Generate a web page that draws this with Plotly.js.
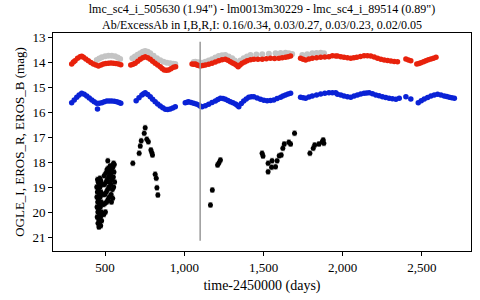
<!DOCTYPE html>
<html><head><meta charset="utf-8">
<script src="https://cdn.plot.ly/plotly-3.0.1.min.js"></script>
<style>html,body{margin:0;padding:0;background:#fff}#plot{width:480px;height:300px}</style>
</head><body><div id="plot"></div>
<script>
// EROS_R light curve (days, mag)
const redT = [289,300,310,326,342,352,363,378,394,410,426,442,458,474,489,505,521,537,553,568,584,599,
662,676,690,706,722,738,753,769,785,800,816,832,848,860,873,887,901,916,932,945,
1049,1060,1070,1080,1090,1101,1117,1133,1154,1175,1196,1217,1238,1259,1275,1291,1305,1318,1330,1340,1352,1365,1381,1397,1418,1439,1465,1492,1518,1544,1570,1597,1618,1639,1655,1671,
1734,1750,1766,1787,1808,1835,1861,1887,1913,1935,1956,1967,1988,2008,2030,2051,2070,
2089,2112,2135,2156,2177,2199,2220,2241,2262,2283,2304,2325,2346,
2399,2415,2430,
2468,2481,2494,2510,2525,2541,2557,2573,2589];
const redMag = [14.08,14.0,13.95,13.85,13.79,13.77,13.81,13.88,13.95,14.02,14.08,14.12,14.16,14.12,14.08,14.06,14.05,14.04,14.05,14.06,14.08,14.11,
14.12,14.09,14.05,13.97,13.89,13.83,13.79,13.83,13.89,13.97,14.05,14.12,14.19,14.26,14.32,14.33,14.32,14.27,14.21,14.19,
14.08,14.09,14.08,14.12,14.14,14.16,14.14,14.12,14.09,14.05,14.0,13.95,13.91,13.89,13.93,13.99,14.04,14.08,14.13,14.19,14.12,14.05,14.0,13.95,13.91,13.89,13.89,13.89,13.87,13.85,13.86,13.85,13.83,13.81,13.79,13.76,
13.85,13.89,13.92,13.88,13.85,13.83,13.81,13.8,13.79,13.75,13.76,13.76,13.79,13.81,13.83,13.85,13.83,
13.81,13.78,13.75,13.75,13.76,13.8,13.85,13.89,13.92,13.94,13.96,13.98,13.99,
13.88,13.92,13.95,
14.08,14.06,14.03,13.99,13.95,13.91,13.88,13.85,13.81];

// Grey I-band light curve
const greyT = [447,463,479,500,521,542,563,580,595,
672,688,705,722,738,753,769,785,806,827,848,869,890,911,930,943,
1060,1070,1090,1112,1133,1154,1175,1196,1217,1238,1259,1280,1302,1318,1333,1354,1375,1396,1418,1455,1492,1534,1576,1608,1639,1660,1681,
1745,1776,1808,1835,1861,1882];
const greyMag = [13.92,13.86,13.81,13.77,13.75,13.75,13.77,13.82,13.88,
13.85,13.78,13.71,13.65,13.59,13.56,13.59,13.65,13.75,13.85,13.93,13.99,14.03,14.05,14.07,14.08,
14.0,13.99,14.01,14.03,13.99,13.94,13.89,13.82,13.76,13.73,13.72,13.78,13.85,13.94,14.03,13.94,13.85,13.78,13.72,13.7,13.69,13.67,13.65,13.64,13.63,13.65,13.68,
13.72,13.69,13.65,13.64,13.63,13.65];

// EROS_B light curve
const blueT = [289,305,321,336,352,368,384,400,416,431,447,452,463,479,495,511,526,542,558,574,588,599,
696,714,732,743,753,769,785,800,816,832,848,864,880,895,911,927,943,
1006,1017,1027,1043,1059,1075,1091,1102,1112,1133,1154,1175,1196,1212,1228,1244,1259,1275,1291,1307,1323,1334,1344,1360,1375,1391,1407,1423,1439,1460,1481,1502,1523,1544,1565,1586,1608,1623,1639,1655,1671,
1734,1750,1766,1787,1808,1835,1861,1887,1913,1935,1956,1967,1988,2008,2030,2051,2072,2093,2114,2135,2151,2167,2188,2209,2230,2251,2272,2293,2314,2336,2357,
2399,2430,
2477,2496,2515,2536,2557,2578,2599,2620,2641,2657,2673,2689,2705];
const blueMag = [15.63,15.52,15.41,15.32,15.25,15.29,15.36,15.44,15.52,15.59,15.65,15.88,15.65,15.63,15.59,15.56,15.56,15.56,15.57,15.59,15.62,15.65,
15.55,15.43,15.32,15.27,15.23,15.3,15.39,15.49,15.59,15.68,15.76,15.83,15.89,15.9,15.88,15.84,15.79,
15.63,15.61,15.59,15.62,15.65,15.68,15.72,15.77,15.79,15.75,15.69,15.62,15.56,15.5,15.45,15.46,15.49,15.54,15.59,15.63,15.68,15.73,15.79,15.66,15.56,15.48,15.41,15.39,15.39,15.44,15.49,15.53,15.55,15.54,15.52,15.46,15.41,15.36,15.32,15.28,15.25,
15.41,15.43,15.45,15.4,15.36,15.32,15.28,15.25,15.23,15.23,15.23,15.29,15.32,15.36,15.39,15.41,15.36,15.32,15.28,15.25,15.24,15.23,15.27,15.32,15.35,15.39,15.42,15.45,15.47,15.49,15.45,
15.39,15.48,
15.63,15.55,15.48,15.42,15.36,15.32,15.29,15.32,15.36,15.38,15.41,15.43,15.45];

// OGLE_I light curve
const ogleT = [447,448,449,450,451,452,453,454,455,456,457,458,459,460,461,462,463,464,465,466,467,468,469,470,471,472,473,474,475,476,478,
486,488,490,492,494,496,498,500,502,504,506,508,510,512,514,516,518,520,522,524,526,528,530,
532,534,536,538,540,542,544,546,548,550,552,554,556,558,560,517,553,
675,715,722,728,747,753,763,773,789,795,799,816,823,827,833,
1165,1177,1210,1219,1228,
1491,1497,1529,1529,1551,1554,1576,1586,1599,1612,1622,1631,1660,1671,1696,
1793,1814,1823,1850,1871,1877,1881];
const ogleMag = [19.0,19.4,19.8,20.2,19.2,18.7,19.6,20.0,20.45,18.8,19.1,19.5,19.9,20.3,20.6,18.9,19.3,19.7,20.1,20.5,18.65,19.0,19.4,19.8,20.2,20.55,18.75,19.2,19.6,20.0,20.35,
18.9,19.3,19.7,20.1,18.55,18.9,19.3,19.65,20.0,18.45,18.8,19.2,19.6,18.3,18.7,19.1,19.5,18.25,18.6,19.0,19.4,18.4,18.8,
18.15,18.5,18.9,19.3,19.6,18.3,18.7,19.1,19.45,18.2,18.6,19.0,18.4,18.1,18.8,17.95,18.05,
18.05,17.65,17.36,17.15,16.85,16.63,17.09,17.19,17.52,17.63,17.72,18.49,18.65,19.03,19.32,
19.72,19.12,18.12,18.03,17.92,
17.65,17.76,18.39,18.05,18.21,17.95,18.19,17.95,17.75,17.72,17.45,17.28,17.21,17.28,16.85,
17.65,17.45,17.32,17.28,17.19,17.12,17.25];

const seasonBoundary = 1100;
const lineTop = 13.19, lineBottom = 21.15;

const titleLines = ['lmc_sc4_i_505630 (1.94") - lm0013m30229 - lmc_sc4_i_89514 (0.89")',
  'Ab/ExcessAb in I,B,R,I: 0.16/0.34, 0.03/0.27, 0.03/0.23, 0.02/0.05'];
const xTickVals = [500,1000,1500,2000,2500];
const yTickVals = [13,14,15,16,17,18,19,20,21];

const serif = 'Liberation Serif, Times New Roman, serif';
const traces = [
  {x: greyT, y: greyMag, mode:'markers', type:'scatter', marker:{color:'#c4c4c4', size:6}},
  {x: redT, y: redMag, mode:'markers', type:'scatter', marker:{color:'#e8220c', size:5.5}},
  {x: blueT, y: blueMag, mode:'markers', type:'scatter', marker:{color:'#0a22d6', size:5.5}},
  {x: ogleT, y: ogleMag, mode:'markers', type:'scatter', marker:{color:'#000', size:5},
   error_y:{type:'constant', value:0.1, color:'#999', thickness:1, width:2}}
];
const layout = {
  width:480, height:300,
  margin:{l:53, r:9, t:33, b:49},
  showlegend:false,
  paper_bgcolor:'#fff', plot_bgcolor:'#fff',
  font:{family:serif, color:'#000'},
  title:{text: titleLines.join('<br>'), x:0.5, xref:'paper', xanchor:'center', y:0.957, yref:'container', yanchor:'middle', font:{family:serif, size:12, color:'#000'}},
  xaxis:{range:[171,2810], tickvals:xTickVals, tickformat:',d', ticks:'outside', ticklen:4, tickcolor:'#000',
    showline:true, mirror:true, linecolor:'#000', linewidth:1, showgrid:false, zeroline:false,
    tickfont:{family:serif, size:13}, title:{text:'time-2450000 (days)', font:{family:serif, size:14}, standoff:6}},
  yaxis:{range:[21.56,12.84], tickvals:yTickVals, ticks:'outside', ticklen:4, tickcolor:'#000',
    showline:true, mirror:true, linecolor:'#000', linewidth:1, showgrid:false, zeroline:false,
    tickfont:{family:serif, size:13}, title:{text:'OGLE_I, EROS_R, EROS_B (mag)', font:{family:serif, size:13}, standoff:4}},
  shapes:[{type:'line', xref:'x', yref:'y', x0:seasonBoundary, x1:seasonBoundary, y0:lineTop, y1:lineBottom, line:{color:'#999', width:1.5}}]
};
Plotly.newPlot('plot', traces, layout, {staticPlot:true, displayModeBar:false});
</script></body></html>
